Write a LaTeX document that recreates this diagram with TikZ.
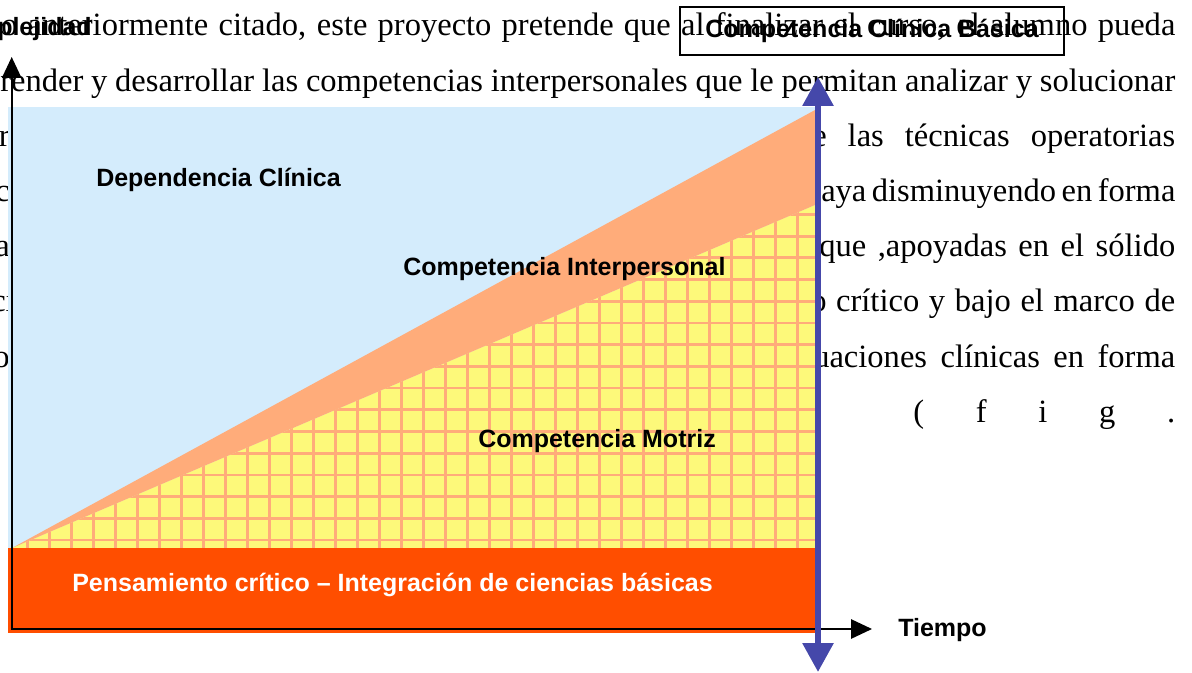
\documentclass[tikz,border=0pt]{standalone}
\usepackage{fontspec}
\setmainfont{Liberation Serif}
\newfontfamily\arialfont{Liberation Sans}
\usetikzlibrary{arrows.meta}
\newlength\px
\setlength\px{0.75pt}
\definecolor{cielo}{RGB}{212,236,252}
\definecolor{salmon}{RGB}{255,172,122}
\definecolor{amarillo}{RGB}{253,249,122}
\definecolor{rojo}{RGB}{255,78,0}
\definecolor{azul}{RGB}{69,72,170}
\begin{document}
\begin{tikzpicture}[x=0.75pt, y=-0.75pt,
  body/.style={inner sep=0pt, font=\fontsize{24.4}{28}\selectfont},
  lbl/.style={inner sep=0pt, font=\arialfont\bfseries\fontsize{18.75}{22}\selectfont},
  gridln/.style={salmon, line width=2.1pt},
  axis/.style={line width=1.4pt, {Triangle[length=15.75pt,width=14.5pt]}-{Triangle[length=15.75pt,width=14.5pt]}},
  bluearr/.style={azul, line width=4.5pt, {Triangle[length=21.75pt,width=22.5pt]}-{Triangle[length=21.75pt,width=22.5pt]}}]
\useasboundingbox (0,0) rectangle (1192,673);

% texto del documento
\node[body, anchor=base west] (l1) at (1,36) {\makebox[1174\px][s]{o anteriormente citado, este proyecto pretende que al finalizar el curso, el alumno pueda}};
\node[body, anchor=base west] (l2) at (0,91.2) {\makebox[1175\px][s]{render y desarrollar las competencias interpersonales que le permitan analizar y solucionar}};
\node[body, anchor=base east] (f3) at (10,146.4) {r};
\node[body, anchor=base east] (f4) at (10,201.6) {c};
\node[body, anchor=base east] (f5) at (10,256.8) {a};
\node[body, anchor=base east] (f6) at (15,312) {ci};
\node[body, anchor=base east] (f7) at (10,367.2) {o};
\node[body, anchor=base west] (r3) at (812,146.4) {\makebox[363\px][s]{e las técnicas operatorias}};
\node[body, anchor=base west] (r4) at (821,201.6) {\makebox[354\px][s]{aya disminuyendo en forma}};
\node[body, anchor=base west] (r5) at (819,256.8) {\makebox[356\px][s]{que ,apoyadas en el sólido}};
\node[body, anchor=base west] (r6) at (810,312) {\makebox[365\px][s]{o crítico y bajo el marco de}};
\node[body, anchor=base west] (r7) at (813,367.2) {\makebox[362\px][s]{uaciones clínicas en forma}};
\node[body, anchor=base west] (r8) at (913,422.4) {\makebox[262\px][s]{( f i g .}};

% zonas
\fill[cielo] (8,107) rectangle (815,548);
\begin{scope}
\clip (12,548) -- (815,205) -- (815,548) -- cycle;
\fill[amarillo] (12,200) rectangle (815,548);
\foreach \gx in {27.2,49.2,...,815} \draw[gridln] (\gx,200) -- (\gx,548);
\foreach \gy in {540,518.3,...,200} \draw[gridln] (12,\gy) -- (815,\gy);
\end{scope}
\fill[salmon] (12,548) -- (815,110) -- (815,205) -- cycle;
\fill[rojo] (8,548) rectangle (815,633);

\node[lbl, anchor=base west] (dep) at (96,187) {Dependencia Clínica};
\node[lbl, anchor=base west] (inter) at (403,276) {Competencia Interpersonal};
\node[lbl, anchor=base west] (motriz) at (478,447) {Competencia Motriz};
\node[lbl, anchor=base west, white] (pens) at (72,591) {Pensamiento crítico – Integración de ciencias básicas};

% ejes
\coordinate (o) at (11.7,629);
\coordinate (ytip) at (11.7,57);
\coordinate (xtip) at (872,629);
\draw[axis] (ytip) -- (o) -- (xtip);
\node[lbl, anchor=base east] (compl) at (92,36) {Complejidad};
\node[lbl, anchor=base west] (tiempo) at (898,636) {Tiempo};

\coordinate (btop) at (818,77);
\coordinate (bbot) at (818,672);
\draw[bluearr] (btop) -- (bbot);
\node[lbl, draw, line width=1.1pt, minimum width=384\px, minimum height=48\px] (ccb) at (872,31) {Competencia Clínica Básica};

\end{tikzpicture}
\end{document}
